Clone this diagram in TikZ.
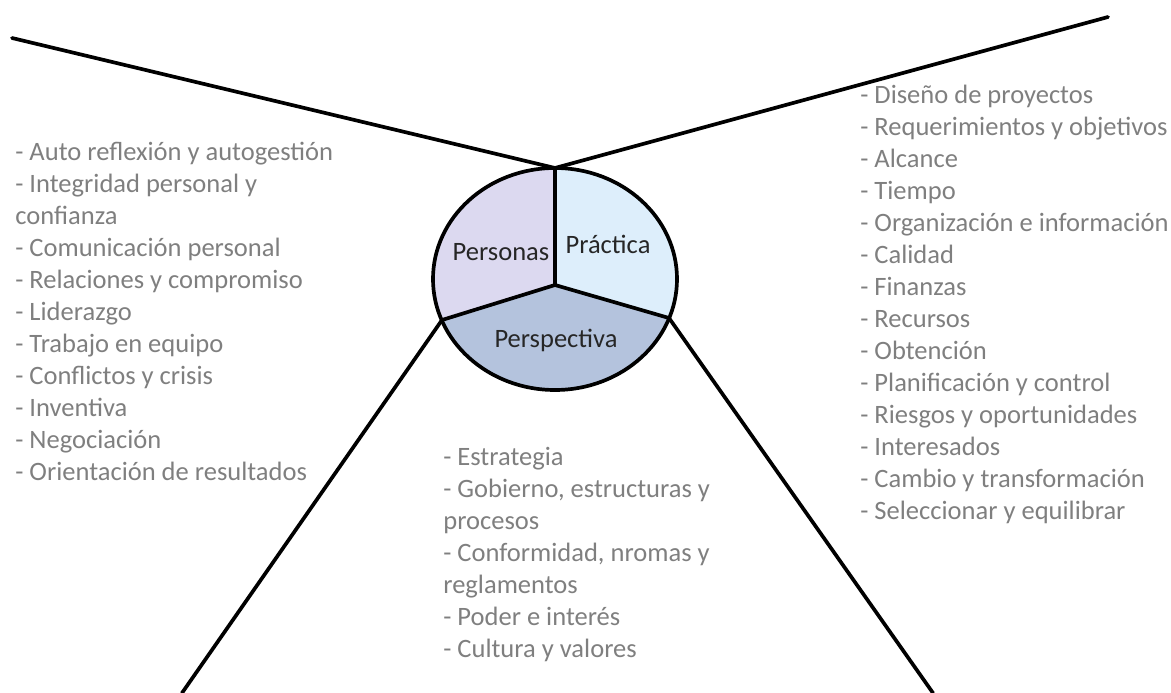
\documentclass[tikz,border=0pt]{standalone}
\usepackage{fontspec}
\setmainfont{Carlito}
\usetikzlibrary{positioning}
\definecolor{lila}{HTML}{DCD9F0}
\definecolor{celeste}{HTML}{DDEEFB}
\definecolor{azulgris}{HTML}{B4C3DD}
\definecolor{gristxt}{HTML}{7F7F7F}
\tikzset{
  lst/.style={inner sep=0pt, align=left, anchor=base west, text=gristxt, font=\fontsize{15.1}{18.2}\selectfont},
  lab/.style={inner sep=0pt, anchor=base, text=black!85, font=\fontsize{15.1}{18.2}\selectfont},
  ln/.style={line width=2.1pt, line cap=round}
}
\begin{document}
\begin{tikzpicture}[x=0.02cm, y=-0.02cm]
	\useasboundingbox (0,0) rectangle (1171,693);
	\coordinate (c) at (555,279);
	\coordinate (hub) at (555,285);
	\coordinate (top) at (555,168);
	\coordinate (bl) at (442,320);
	\coordinate (br) at (669,318);
	\coordinate (tl) at (12,38);
	\coordinate (tr) at (1108,17);
	\coordinate (lb) at (182,693);
	\coordinate (rb) at (933,693);
	%
	\begin{scope}
		\clip (c) ellipse (122 and 111);
		\fill[lila] (hub) -- (555,100) -- (380,100) -- (380,339) -- cycle;
		\fill[celeste] (hub) -- (555,100) -- (730,100) -- (730,336) -- cycle;
		\fill[azulgris] (hub) -- (380,339) -- (380,420) -- (730,420) -- (730,336) -- cycle;
	\end{scope}
	\draw[ln] (c) ellipse (122 and 111);
	\draw[ln] (top) -- (hub);
	\draw[ln] (bl) -- (hub) -- (br);
	%
	\node[lab] (pers) at (501,260) {Personas};
	\node[lab] (prac) at (608,253) {Práctica};
	\node[lab] (persp) at (556,347) {Perspectiva};
	%
	\draw[ln] (tl) -- (top) -- (tr);
	\draw[ln] (bl) -- (lb);
	\draw[ln] (br) -- (rb);
	%
	% base = baseline of the last line
	\node[lst] (listpers) at (15,480) {- Auto reflexión y autogestión\\- Integridad personal y\\confianza\\- Comunicación personal\\- Relaciones y compromiso\\- Liderazgo\\- Trabajo en equipo\\- Conflictos y crisis\\- Inventiva\\- Negociación\\- Orientación de resultados};
	\node[lst] (listprac) at (860,519) {- Diseño de proyectos\\- Requerimientos y objetivos\\- Alcance\\- Tiempo\\- Organización e información\\- Calidad\\- Finanzas\\- Recursos\\- Obtención\\- Planificación y control\\- Riesgos y oportunidades\\- Interesados\\- Cambio y transformación\\- Seleccionar y equilibrar};
	\node[lst] (listpersp) at (443,657) {- Estrategia\\- Gobierno, estructuras y\\procesos\\- Conformidad, nromas y\\reglamentos\\- Poder e interés\\- Cultura y valores};
\end{tikzpicture}
\end{document}
